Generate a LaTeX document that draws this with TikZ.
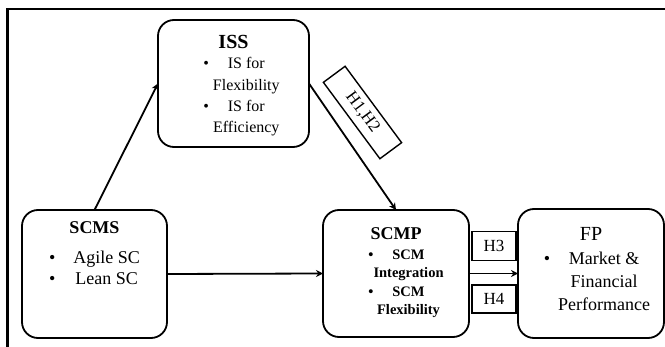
\documentclass[tikz,border=0pt]{standalone}
\usepackage{fontspec}
\setmainfont{Liberation Serif}
\usetikzlibrary{arrows.meta,positioning}

\begin{document}
\begin{tikzpicture}[
         x = 1pt, y = -1pt,
     node distance = 0pt,
BoxStyle/.style={draw, line width=1.8pt, rounded corners=16pt, minimum width=146pt,
                 minimum height=127pt, inner sep=0pt, outer sep=0pt},
TitleStyle/.style={inner sep=0pt, font=\fontsize{18}{21}\selectfont\bfseries},
ListStyle/.style={inner sep=0pt},
HypStyle/.style={draw, line width=1.4pt, minimum width=44pt, minimum height=29pt,
                 inner sep=0pt, font=\fontsize{17}{20}\selectfont},
  ]
\useasboundingbox (0,0) rectangle (665,347);
\clip (0,0) rectangle (665,347);
\draw[line width=2.6pt] (7.5,360) -- (7.5,9) -- (680,9);
% boxes
\node [BoxStyle, minimum width=151pt] (iss) at (233.5,83.5) {};
\node [BoxStyle, minimum width=145pt, minimum height=128pt] (scms) at (94.5,274) {};
\node [BoxStyle] (scmp) at (396,273.5) {};
\node [BoxStyle, minimum height=129pt] (fp) at (591,273.5) {};
% titles
\node [TitleStyle, font=\fontsize{20}{22}\selectfont\bfseries, below=15pt of iss.north] (iss-t) {ISS};
\node [TitleStyle, below=11pt of scms.north] (scms-t) {SCMS};
\node [TitleStyle, below=17pt of scmp.north] (scmp-t) {SCMP};
\node [TitleStyle, font=\fontsize{20}{22}\selectfont, below=18pt of fp.north] (fp-t) {FP};
% lists
\node [ListStyle, font=\fontsize{16}{21.3}\selectfont, below=5pt of iss-t, xshift=8pt] (iss-l)
  {\begin{tabular}{@{}l@{\hspace{4pt}}c@{}}
   \textbullet & IS for\\ & Flexibility\\ \textbullet & IS for\\ & Efficiency
   \end{tabular}};
\node [ListStyle, font=\fontsize{18}{21}\selectfont, below=15pt of scms-t] (scms-l)
  {\begin{tabular}{@{}l@{\hspace{18pt}}c@{}}
   \textbullet & Agile SC\\ \textbullet & Lean SC
   \end{tabular}};
\node [ListStyle, font=\fontsize{14.5}{18.3}\selectfont\bfseries, below=7pt of scmp-t, xshift=10pt] (scmp-l)
  {\begin{tabular}{@{}l@{\hspace{0pt}}c@{}}
   \textbullet & SCM\\ & Integration\\ \textbullet & SCM\\ & Flexibility
   \end{tabular}};
\node [ListStyle, font=\fontsize{18}{23}\selectfont, below=8pt of fp-t, xshift=6pt] (fp-l)
  {\begin{tabular}{@{}l@{\hspace{8pt}}c@{}}
   \textbullet & Market \&\\ & Financial\\ & Performance
   \end{tabular}};
% hypotheses
\node [HypStyle] (h3) at (494,246) {H3};
\node [HypStyle, minimum height=28pt] (h4) at (494,299) {H4};
\node [HypStyle, minimum width=95pt, minimum height=27pt, rotate=-53.5] (h12) at (362.5,112.5) {H1,H2};
\begin{scope}[line width=1.8pt, -{Stealth[length=7pt, width=7pt]}]
  \draw (scms.north) -- (iss.west);
  \draw (iss.east) -- (scmp.north);
  \draw (scms.east) -- (scmp.west);
  \draw (scmp.east) -- (fp.west);
\end{scope}
\end{tikzpicture}
\end{document}
